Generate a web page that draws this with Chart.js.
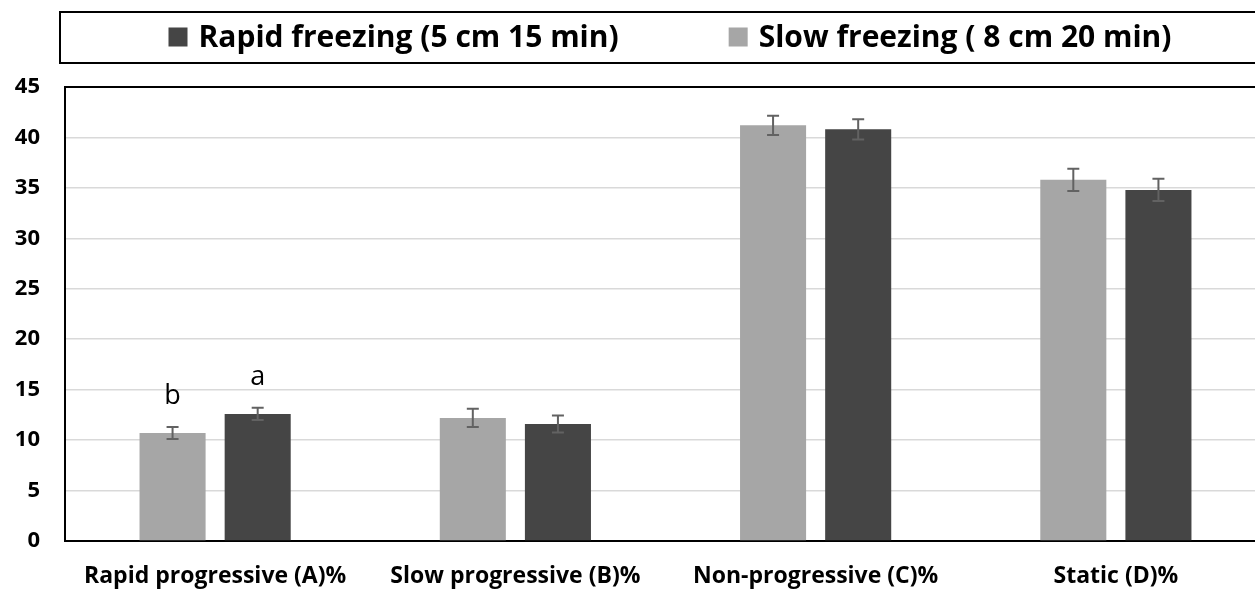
<!DOCTYPE html>
<html>
<head>
<meta charset="utf-8">
<script src="https://cdn.jsdelivr.net/npm/chart.js@4.4.1/dist/chart.umd.min.js"></script>
<style>
  html, body { margin: 0; padding: 0; background: #fff; overflow: hidden; }
  #wrap { width: 1270px; height: 590px; }
</style>
</head>
<body>
<div id="wrap"><canvas id="barChart"></canvas></div>
<script>
// Data
const categories = ['Rapid progressive (A)%', 'Slow progressive (B)%', 'Non-progressive (C)%', 'Static (D)%'];
const rapidLabel = 'Rapid freezing (5 cm 15 min)';
const slowLabel = 'Slow freezing ( 8 cm 20 min)';
const slowValues = [10.7, 12.2, 41.2, 35.8];
const slowErrors = [0.6, 0.9, 0.95, 1.1];
const rapidValues = [12.6, 11.6, 40.8, 34.8];
const rapidErrors = [0.6, 0.85, 1.0, 1.1];
const slowLetters = ['b', '', '', ''];
const rapidLetters = ['a', '', '', ''];
const yTicks = [0, 5, 10, 15, 20, 25, 30, 35, 40, 45];

const LIGHT = '#a6a6a6';
const DARK = '#454545';
const ERR = '#626262';

Chart.defaults.font.family = '"Open Sans"';
Chart.defaults.color = '#000';

// Error bars + significance letters
const errorBars = {
    id: 'errorBars',
    afterDatasetsDraw(chart) {
        const ctx = chart.ctx;
        const y = chart.scales.y;
        chart.data.datasets.forEach((ds, di) => {
            const meta = chart.getDatasetMeta(di);
            meta.data.forEach((bar, i) => {
                const v = ds.data[i], e = ds.errors[i];
                const top = y.getPixelForValue(v + e);
                const bot = y.getPixelForValue(v - e);
                ctx.save();
                ctx.strokeStyle = ERR;
                ctx.lineWidth = 2;
                ctx.beginPath();
                ctx.moveTo(bar.x, top); ctx.lineTo(bar.x, bot);
                ctx.moveTo(bar.x - 6, top); ctx.lineTo(bar.x + 6, top);
                ctx.moveTo(bar.x - 6, bot); ctx.lineTo(bar.x + 6, bot);
                ctx.stroke();
                if (ds.letters[i]) {
                    ctx.fillStyle = '#000';
                    ctx.font = '27px "Open Sans"';
                    ctx.textAlign = 'center';
                    ctx.textBaseline = 'alphabetic';
                    ctx.fillText(ds.letters[i], bar.x, top - 23);
                }
                ctx.restore();
            });
        });
    }
};

// Plot frame top line + boxed legend
const frameLegend = {
    id: 'frameLegend',
    afterDraw(chart) {
        const ctx = chart.ctx;
        const a = chart.chartArea;
        ctx.save();
        ctx.strokeStyle = '#000';
        ctx.lineWidth = 2;
        ctx.beginPath();
        ctx.moveTo(a.left, a.top); ctx.lineTo(a.right, a.top);
        ctx.stroke();

        // legend box
        ctx.strokeRect(60, 12, chart.width, 51);
        const items = chart.data.datasets.slice().reverse();
        ctx.font = 'bold 30px "Open Sans"';
        ctx.textBaseline = 'middle';
        const sq = 19, gap = 11, between = 110;
        const widths = items.map(d => ctx.measureText(d.label).width);
        const total = widths.reduce((s, w) => s + w + sq + gap, 0) + between;
        let x = 670 - total / 2;
        const cy = 37;
        items.forEach((d, i) => {
            ctx.fillStyle = d.backgroundColor;
            ctx.fillRect(x, cy - sq / 2, sq, sq);
            ctx.fillStyle = '#000';
            ctx.fillText(d.label, x + sq + gap, cy + 1);
            x += sq + gap + widths[i] + between;
        });
        ctx.restore();
    }
};

const barCtx = document.getElementById('barChart').getContext('2d');
const barChart = new Chart(barCtx, {
    type: 'bar',
    data: {
        labels: categories,
        datasets: [{
            label: slowLabel,
            data: slowValues,
            errors: slowErrors,
            letters: slowLetters,
            backgroundColor: LIGHT
        }, {
            label: rapidLabel,
            data: rapidValues,
            errors: rapidErrors,
            letters: rapidLetters,
            backgroundColor: DARK
        }]
    },
    options: {
        responsive: true,
        maintainAspectRatio: false,
        animation: false,
        categoryPercentage: 0.567,
        barPercentage: 0.776,
        layout: { padding: { top: 87, right: 4, left: 0, bottom: 0 } },
        plugins: {
            legend: { display: false },
            tooltip: { enabled: false }
        },
        scales: {
            x: {
                grid: { display: false, drawTicks: false },
                border: { color: '#000', width: 2 },
                ticks: { font: { size: 23, weight: 'bold' }, padding: 22, maxRotation: 0 },
                afterFit(scale) { scale.height = 49; }
            },
            y: {
                min: yTicks[0],
                max: yTicks[yTicks.length - 1],
                afterBuildTicks(scale) { scale.ticks = yTicks.map(v => ({ value: v })); },
                grid: { color: '#d9d9d9', lineWidth: 1.5, drawTicks: false },
                border: { color: '#000', width: 2 },
                ticks: { font: { size: 22, weight: 'bold' }, padding: 25 },
                afterFit(scale) { scale.width = 65; }
            }
        }
    },
    plugins: [errorBars, frameLegend]
});
</script>
</body>
</html>
